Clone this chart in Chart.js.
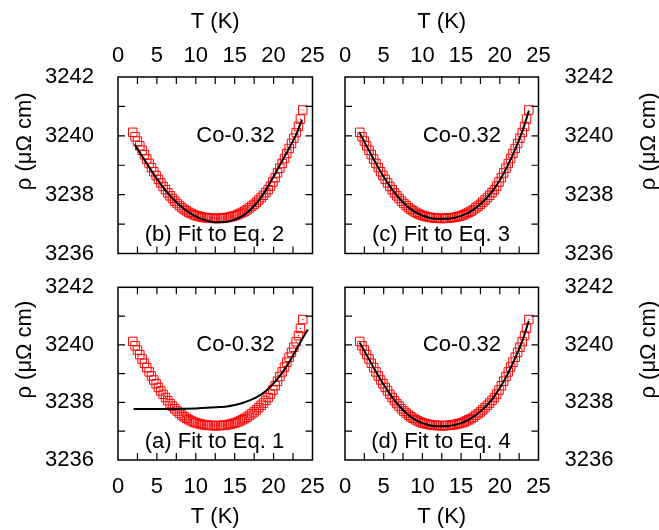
<!DOCTYPE html>
<html>
<head>
<meta charset="utf-8">
<script src="https://cdn.jsdelivr.net/npm/chart.js@4.4.0/dist/chart.umd.min.js"></script>
<style>
  body { margin: 0; background: #fff; }
  #wrap { position: relative; width: 659px; height: 530px; }
  #wrap canvas { position: absolute; left: 0; top: 0; }
</style>
</head>
<body>
<div id="wrap">
  <canvas id="pb" width="659" height="530"></canvas>
  <canvas id="pc" width="659" height="530"></canvas>
  <canvas id="pa" width="659" height="530"></canvas>
  <canvas id="pd" width="659" height="530"></canvas>
</div>
<script>
// measured resistivity, Co-0.32 sample
const tempK = [1.9, 2.2, 2.5, 2.8, 3.1, 3.4, 3.7, 4.0, 4.3, 4.6, 4.9, 5.2, 5.5, 5.8, 6.1, 6.4, 6.7, 7.0, 7.3, 7.6,
  7.9, 8.2, 8.5, 8.8, 9.1, 9.4, 9.7, 10.0, 10.3, 10.6, 10.9, 11.2, 11.5, 11.8, 12.1, 12.4, 12.7, 13.0, 13.3, 13.6,
  13.9, 14.2, 14.5, 14.8, 15.1, 15.4, 15.7, 16.0, 16.3, 16.6, 16.9, 17.2, 17.5, 17.8, 18.1, 18.4, 18.7, 19.0, 19.3, 19.6,
  19.9, 20.2, 20.5, 20.8, 21.1, 21.4, 21.7, 22.0, 22.3, 22.6, 22.9, 23.2, 23.45, 23.75];
const rho = [3240.12, 3239.97, 3239.82, 3239.66, 3239.51, 3239.36, 3239.21, 3239.06, 3238.92, 3238.78,
  3238.65, 3238.52, 3238.40, 3238.28, 3238.17, 3238.06, 3237.96, 3237.87, 3237.78, 3237.70,
  3237.63, 3237.56, 3237.50, 3237.45, 3237.40, 3237.36, 3237.32, 3237.29, 3237.27, 3237.25,
  3237.23, 3237.22, 3237.21, 3237.20, 3237.20, 3237.19, 3237.19, 3237.20, 3237.20, 3237.21,
  3237.22, 3237.23, 3237.25, 3237.27, 3237.29, 3237.32, 3237.36, 3237.40, 3237.44, 3237.49,
  3237.55, 3237.61, 3237.67, 3237.74, 3237.82, 3237.90, 3237.98, 3238.07, 3238.17, 3238.29,
  3238.43, 3238.58, 3238.74, 3238.90, 3239.06, 3239.23, 3239.40, 3239.57, 3239.74, 3239.92,
  3240.11, 3240.32, 3240.57, 3240.88];

// fit curves
const fitAT = [2, 4, 6, 8, 10, 12, 13, 14, 15, 16, 17, 18, 19, 20, 21, 22, 23, 24, 24.4];
const fitARho = [3237.77, 3237.77, 3237.77, 3237.78, 3237.79, 3237.82, 3237.84, 3237.86, 3237.91, 3237.98,
  3238.08, 3238.21, 3238.40, 3238.66, 3238.99, 3239.40, 3239.88, 3240.36, 3240.53];
const fitBT = [2.15, 3, 4, 5, 6, 7, 8, 9, 10, 11, 12, 13, 14, 15, 16, 17, 18, 19, 20, 21, 22, 23, 23.65];
const fitBRho = [3239.70, 3239.35, 3238.94, 3238.54, 3238.18, 3237.88, 3237.62, 3237.42, 3237.26, 3237.15,
  3237.08, 3237.06, 3237.08, 3237.15, 3237.28, 3237.48, 3237.77, 3238.15, 3238.61, 3239.10, 3239.58, 3240.10, 3240.55];
const fitCT = [1.9, 2.5, 3, 4, 5, 6, 7, 8, 9, 10, 11, 12, 13, 14, 15, 16, 17, 18, 19, 20, 21, 22, 23, 23.75];
const fitCRho = [3240.10, 3239.80, 3239.55, 3239.06, 3238.61, 3238.21, 3237.88, 3237.61, 3237.42, 3237.29,
  3237.21, 3237.18, 3237.18, 3237.21, 3237.28, 3237.39, 3237.57, 3237.80, 3238.10, 3238.49, 3238.98, 3239.55, 3240.22, 3240.85];
const fitDT = [1.9, 2.5, 3, 4, 5, 6, 7, 8, 9, 10, 11, 12, 13, 14, 15, 16, 17, 18, 19, 20, 21, 22, 23, 23.75];
const fitDRho = [3240.08, 3239.79, 3239.55, 3239.07, 3238.62, 3238.22, 3237.88, 3237.61, 3237.41, 3237.28,
  3237.20, 3237.17, 3237.17, 3237.21, 3237.28, 3237.40, 3237.58, 3237.81, 3238.11, 3238.50, 3238.98, 3239.55, 3240.21, 3240.84];

const xTickMarks = [2.5, 5, 7.5, 10, 12.5, 15, 17.5, 20, 22.5];
const yTickMarks = [3237, 3238, 3239, 3240, 3241];

const FONT = "'Liberation Sans', Arial, sans-serif";
const zip = (xs, ys) => xs.map((v, i) => ({x: v, y: ys[i]}));

const framePlugin = {
  id: 'frame',
  afterDatasetsDraw(chart, args, o) {
    const {ctx, chartArea: a} = chart;
    const x = chart.scales.x, y = chart.scales.y;
    ctx.save();
    ctx.strokeStyle = '#000';
    ctx.lineWidth = 1.5;
    ctx.strokeRect(a.left, a.top, a.right - a.left, a.bottom - a.top);
    ctx.lineWidth = 1.2;
    ctx.beginPath();
    xTickMarks.forEach(t => {
      const px = x.getPixelForValue(t);
      ctx.moveTo(px, a.top); ctx.lineTo(px, a.top + 7);
      ctx.moveTo(px, a.bottom); ctx.lineTo(px, a.bottom - 7);
    });
    yTickMarks.forEach(t => {
      const py = y.getPixelForValue(t);
      ctx.moveTo(a.left, py); ctx.lineTo(a.left + 7, py);
      ctx.moveTo(a.right, py); ctx.lineTo(a.right - 7, py);
    });
    ctx.stroke();

    ctx.fillStyle = '#000';
    ctx.font = '22px ' + FONT;
    ctx.textAlign = 'center';
    ctx.textBaseline = 'middle';
    ctx.fillText('Co-0.32', x.getPixelForValue(15.1), y.getPixelForValue(3240));
    ctx.fillText(o.label, x.getPixelForValue(12.4), y.getPixelForValue(3236.64));

    ctx.translate(o.titleX, (a.top + a.bottom) / 2 - 24);
    ctx.rotate(-Math.PI / 2);
    ctx.fillText('ρ (μΩ cm)', 0, 0);
    ctx.restore();
  }
};

function makePanel(id, xSide, ySide, pad, fitT, fitRho, label) {
  const tickFont = {family: FONT, size: 22};
  return new Chart(document.getElementById(id), {
    type: 'scatter',
    data: {
      datasets: [
        {
          data: zip(fitT, fitRho), showLine: true, borderColor: '#000', borderWidth: 2,
          pointRadius: 0, cubicInterpolationMode: 'monotone', fill: false
        },
        {
          data: zip(tempK, rho), pointStyle: 'rect', pointRadius: 0.8,
          backgroundColor: '#f00', borderWidth: 0
        },
        {
          data: zip(tempK, rho), pointStyle: 'rect', pointRadius: 6,
          borderColor: '#f00', borderWidth: 1, backgroundColor: 'rgba(0,0,0,0)'
        }
      ]
    },
    options: {
      responsive: false,
      animation: false,
      events: [],
      layout: {padding: pad},
      scales: {
        x: {
          type: 'linear', position: xSide, min: 0, max: 25,
          grid: {display: false}, border: {display: false},
          ticks: {stepSize: 5, font: tickFont, color: '#000', maxRotation: 0, autoSkip: false,
            padding: xSide === 'top' ? 0 : 6},
          title: {display: true, text: 'T (K)', font: tickFont, color: '#000',
            padding: {top: xSide === 'top' ? 9 : 0, bottom: 0}},
          afterFit: s => { s.height = xSide === 'top' ? 77 : 70; }
        },
        y: {
          type: 'linear', position: ySide, min: 3236, max: 3242,
          grid: {display: false}, border: {display: false},
          ticks: {stepSize: 2, font: tickFont, color: '#000', autoSkip: false,
            padding: ySide === 'left' ? 16 : 18, callback: v => String(v)},
          afterFit: s => { s.width = ySide === 'left' ? 118 : 120.5; }
        }
      },
      plugins: {
        legend: {display: false},
        tooltip: {enabled: false},
        frame: {label: label, titleX: ySide === 'left' ? 25 : 649}
      }
    },
    plugins: [framePlugin]
  });
}

makePanel('pb', 'top', 'left', {left: 0, top: 0, right: 346.5, bottom: 276.5}, fitBT, fitBRho, '(b) Fit to Eq. 2');
makePanel('pc', 'top', 'right', {left: 345, top: 0, right: 0, bottom: 276.5}, fitCT, fitCRho, '(c) Fit to Eq. 3');
makePanel('pa', 'bottom', 'left', {left: 0, top: 287.3, right: 346.5, bottom: 0}, fitAT, fitARho, '(a) Fit to Eq. 1');
makePanel('pd', 'bottom', 'right', {left: 345, top: 287.3, right: 0, bottom: 0}, fitDT, fitDRho, '(d) Fit to Eq. 4');
</script>
</body>
</html>
